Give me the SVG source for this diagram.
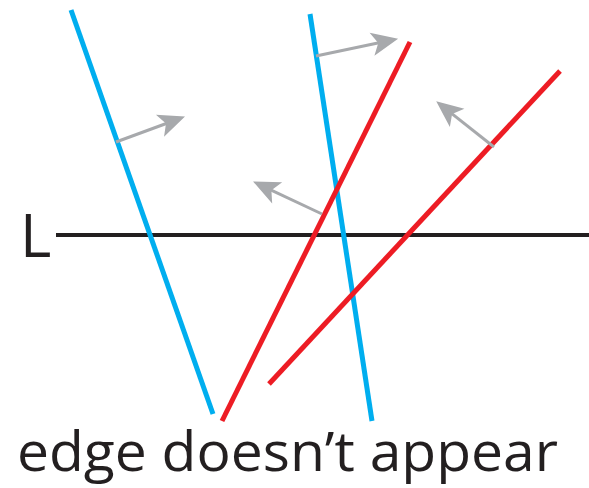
<svg xmlns="http://www.w3.org/2000/svg" width="589" height="488" viewBox="0 0 589 488">
<style>
.blue{stroke:#00aeef;stroke-width:5;fill:none}
.red{stroke:#ed1c24;stroke-width:5;fill:none}
.axis{stroke:#231f20;stroke-width:4;fill:none}
.arr{stroke:#a7a9ac;stroke-width:3;fill:none;marker-end:url(#ah)}
.lbl{font-family:"Open Sans","Liberation Sans",sans-serif;fill:#231f20}
</style>
<defs>
<marker id="ah" markerUnits="userSpaceOnUse" markerWidth="32" markerHeight="30" viewBox="-12 -13 30 26" refX="0" refY="0" orient="auto">
<path d="M16,0 L-9,-11 L-3,0 L-9,11 Z" fill="#a7a9ac"/>
</marker>
</defs>
<g id="line-L">
<line class="axis" x1="56" y1="235" x2="589" y2="235"/>
<text class="lbl" x="20" y="257" font-size="60">L</text>
</g>
<g id="edges">
<line class="blue" x1="71" y1="10" x2="213" y2="414"/>
<line class="blue" x1="310" y1="14" x2="372" y2="421"/>
<line class="red" x1="410" y1="42" x2="222" y2="421"/>
<line class="red" x1="560" y1="71" x2="269" y2="384"/>
</g>
<g id="normals">
<line class="arr" x1="116" y1="142" x2="169" y2="122.5"/>
<line class="arr" x1="316" y1="56" x2="381.4" y2="42.3"/>
<line class="arr" x1="322" y1="214" x2="268.5" y2="188.8"/>
<line class="arr" x1="494" y1="147" x2="449.6" y2="111.9"/>
</g>
<g id="caption">
<text class="lbl" x="17" y="471" font-size="55" textLength="541" lengthAdjust="spacingAndGlyphs">edge doesn’t appear</text>
</g>
</svg>
